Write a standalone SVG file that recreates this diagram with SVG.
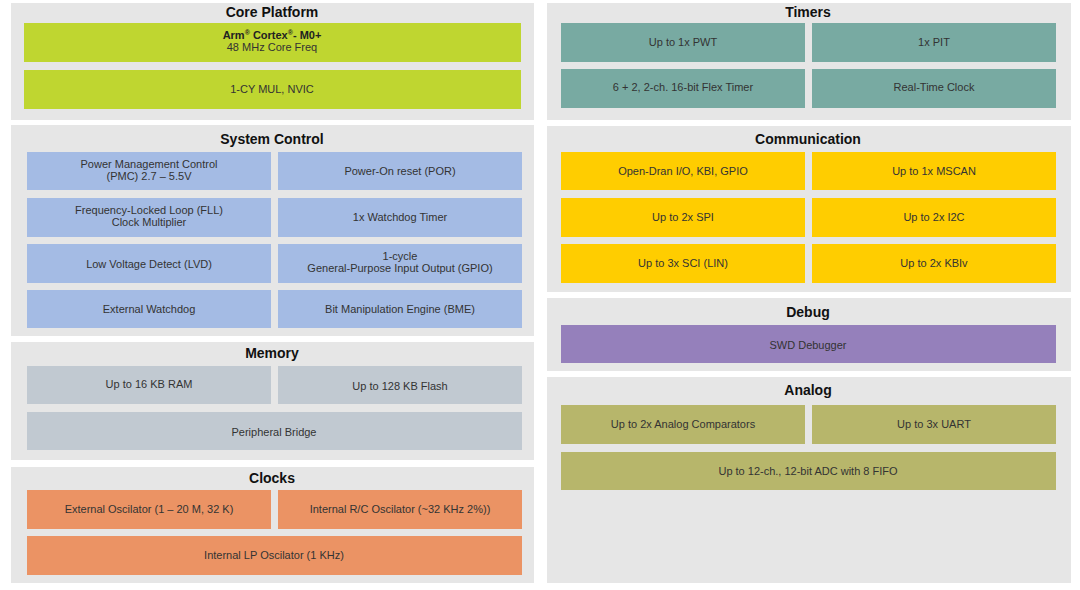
<svg xmlns="http://www.w3.org/2000/svg" width="1080" height="590" viewBox="0 0 1080 590">
<style>
text{font-family:"Liberation Sans",Arial,sans-serif;text-anchor:middle}
.pt{font-size:14px;font-weight:bold;fill:#111}
.t{font-size:11px;fill:#333}
.b{font-weight:bold;fill:#222}
.panel{fill:#e6e6e6}
.green{fill:#bfd630}
.teal{fill:#78aaa2}
.blue{fill:#a4bbe4}
.gray{fill:#c1c9d1}
.orange{fill:#eb9364}
.yellow{fill:#ffcd00}
.purple{fill:#9580bb}
.olive{fill:#b7b66b}
</style>
<rect width="1080" height="590" fill="#ffffff"/>

<g id="core-platform">
<rect class="panel" x="11" y="3" width="523" height="117"/>
<text class="pt" x="272" y="17">Core Platform</text>
<g id="arm-cortex"><rect class="green" x="24" y="23" width="497" height="39"/>
<text class="t b" x="272" y="39">Arm<tspan font-size="7" dy="-4">®</tspan><tspan dy="4"> Cortex</tspan><tspan font-size="7" dy="-4">®</tspan><tspan dy="4">- M0+</tspan></text>
<text class="t" x="272" y="51">48 MHz Core Freq</text></g>
<g id="mul-nvic"><rect class="green" x="24" y="70" width="497" height="39"/>
<text class="t" x="272" y="93">1-CY MUL, NVIC</text></g>
</g>

<g id="system-control">
<rect class="panel" x="11" y="125" width="523" height="211"/>
<text class="pt" x="272" y="144">System Control</text>
<g id="pmc"><rect class="blue" x="27" y="152" width="244" height="38"/>
<text class="t" x="149" y="168">Power Management Control</text>
<text class="t" x="149" y="180">(PMC) 2.7 – 5.5V</text></g>
<g id="por"><rect class="blue" x="278" y="152" width="244" height="38"/>
<text class="t" x="400" y="175">Power-On reset (POR)</text></g>
<g id="fll"><rect class="blue" x="27" y="198" width="244" height="39"/>
<text class="t" x="149" y="214">Frequency-Locked Loop (FLL)</text>
<text class="t" x="149" y="226">Clock Multiplier</text></g>
<g id="wdt"><rect class="blue" x="278" y="198" width="244" height="39"/>
<text class="t" x="400" y="221">1x Watchdog Timer</text></g>
<g id="lvd"><rect class="blue" x="27" y="244" width="244" height="39"/>
<text class="t" x="149" y="268">Low Voltage Detect (LVD)</text></g>
<g id="gpio"><rect class="blue" x="278" y="244" width="244" height="39"/>
<text class="t" x="400" y="260">1-cycle</text>
<text class="t" x="400" y="272">General-Purpose Input Output (GPIO)</text></g>
<g id="ext-wdog"><rect class="blue" x="27" y="290" width="244" height="38"/>
<text class="t" x="149" y="313">External Watchdog</text></g>
<g id="bme"><rect class="blue" x="278" y="290" width="244" height="38"/>
<text class="t" x="400" y="313">Bit Manipulation Engine (BME)</text></g>
</g>

<g id="memory">
<rect class="panel" x="11" y="342" width="523" height="118"/>
<text class="pt" x="272" y="358">Memory</text>
<g id="ram"><rect class="gray" x="27" y="366" width="244" height="38"/>
<text class="t" x="149" y="388">Up to 16 KB RAM</text></g>
<g id="flash"><rect class="gray" x="278" y="366" width="244" height="38"/>
<text class="t" x="400" y="390">Up to 128 KB Flash</text></g>
<g id="bridge"><rect class="gray" x="27" y="412" width="495" height="38"/>
<text class="t" x="274" y="436">Peripheral Bridge</text></g>
</g>

<g id="clocks">
<rect class="panel" x="11" y="467" width="523" height="116"/>
<text class="pt" x="272" y="483">Clocks</text>
<g id="ext-osc"><rect class="orange" x="27" y="490" width="244" height="39"/>
<text class="t" x="149" y="513">External Oscilator (1 – 20 M, 32 K)</text></g>
<g id="rc-osc"><rect class="orange" x="278" y="490" width="244" height="39"/>
<text class="t" x="400" y="513">Internal R/C Oscilator (~32 KHz 2%))</text></g>
<g id="lp-osc"><rect class="orange" x="27" y="536" width="495" height="39"/>
<text class="t" x="274" y="559">Internal LP Oscilator (1 KHz)</text></g>
</g>

<g id="timers">
<rect class="panel" x="547" y="3" width="524" height="117"/>
<text class="pt" x="808" y="17">Timers</text>
<g id="pwt"><rect class="teal" x="561" y="23" width="244" height="39"/>
<text class="t" x="683" y="46">Up to 1x PWT</text></g>
<g id="pit"><rect class="teal" x="812" y="23" width="244" height="39"/>
<text class="t" x="934" y="46">1x PIT</text></g>
<g id="flex-timer"><rect class="teal" x="561" y="69" width="244" height="39"/>
<text class="t" x="683" y="91">6 + 2, 2-ch. 16-bit Flex Timer</text></g>
<g id="rtc"><rect class="teal" x="812" y="69" width="244" height="39"/>
<text class="t" x="934" y="91">Real-Time Clock</text></g>
</g>

<g id="communication">
<rect class="panel" x="547" y="126" width="524" height="166"/>
<text class="pt" x="808" y="144">Communication</text>
<g id="open-drain"><rect class="yellow" x="561" y="152" width="244" height="38"/>
<text class="t" x="683" y="175">Open-Dran I/O, KBI, GPIO</text></g>
<g id="mscan"><rect class="yellow" x="812" y="152" width="244" height="38"/>
<text class="t" x="934" y="175">Up to 1x MSCAN</text></g>
<g id="spi"><rect class="yellow" x="561" y="198" width="244" height="39"/>
<text class="t" x="683" y="221">Up to 2x SPI</text></g>
<g id="i2c"><rect class="yellow" x="812" y="198" width="244" height="39"/>
<text class="t" x="934" y="221">Up to 2x I2C</text></g>
<g id="sci"><rect class="yellow" x="561" y="244" width="244" height="39"/>
<text class="t" x="683" y="267">Up to 3x SCI (LIN)</text></g>
<g id="kbi"><rect class="yellow" x="812" y="244" width="244" height="39"/>
<text class="t" x="934" y="267">Up to 2x KBIv</text></g>
</g>

<g id="debug">
<rect class="panel" x="547" y="298" width="524" height="73"/>
<text class="pt" x="808" y="317">Debug</text>
<g id="swd"><rect class="purple" x="561" y="325" width="495" height="38"/>
<text class="t" x="808" y="349" fill="#3a3148">SWD Debugger</text></g>
</g>

<g id="analog">
<rect class="panel" x="547" y="377" width="524" height="206"/>
<text class="pt" x="808" y="395">Analog</text>
<g id="comparators"><rect class="olive" x="561" y="405" width="244" height="39"/>
<text class="t" x="683" y="428">Up to 2x Analog Comparators</text></g>
<g id="uart"><rect class="olive" x="812" y="405" width="244" height="39"/>
<text class="t" x="934" y="428">Up to 3x UART</text></g>
<g id="adc"><rect class="olive" x="561" y="452" width="495" height="38"/>
<text class="t" x="808" y="475">Up to 12-ch., 12-bit ADC with 8 FIFO</text></g>
</g>

<g id="connectors"></g>
</svg>
